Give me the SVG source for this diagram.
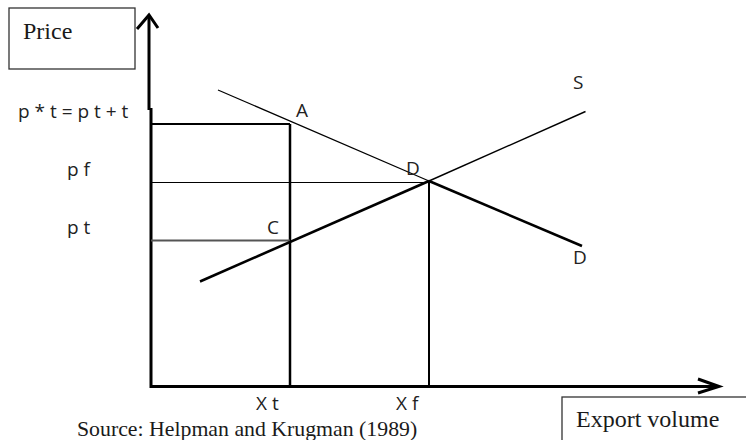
<svg xmlns="http://www.w3.org/2000/svg" width="746" height="440" viewBox="0 0 746 440">
<style>
.box{fill:#fff;stroke:#333;stroke-width:1.3}
.serif{font-family:"Liberation Serif","Times New Roman",serif;fill:#1a1a1a}
.lbl{font-family:"Open Sans","Liberation Sans",sans-serif;font-size:19px;fill:#222}
.ax{stroke:#000;stroke-width:3;fill:none}
.ln{stroke:#000;fill:none}
</style>
<rect width="746" height="440" fill="#fff"/>
<g id="axes">
<path class="ax" d="M149 15 V110 M151 108 V388 M150 386.5 H719"/>
<path class="ax" d="M137 29 L149 15 L158 28" stroke-linejoin="miter"/>
<path class="ax" d="M698 379 L719 386.5 L698 393"/>
</g>
<g id="connectors">
<path class="ln" stroke-width="2" d="M151 124 H290"/>
<path class="ln" stroke-width="2.5" d="M290 124 V386"/>
<path class="ln" stroke-width="2" d="M429 181 V386"/>
<path class="ln" stroke-width="1.2" d="M151 182.5 H429"/>
<path class="ln" stroke="#555" stroke-width="2" d="M151 240.5 H290" style="stroke:#555"/>
<path class="ln" stroke-width="2.6" d="M200 281.5 L429 181"/>
<path class="ln" stroke-width="1.4" d="M429 181 L585.5 111.5"/>
<path class="ln" stroke-width="1.2" d="M218 90 L429 181"/>
<path class="ln" stroke-width="2.6" d="M429 181 L582 246"/>
</g>
<g id="price">
<rect class="box" x="9" y="8" width="126" height="61"/>
<text class="serif" x="23" y="39" font-size="24">Price</text>
</g>
<g id="export-volume">
<rect class="box" x="562" y="397" width="200" height="60"/>
<text class="serif" x="576" y="427" font-size="24">Export volume</text>
</g>
<g id="labels">
<text class="lbl" x="18" y="118">p * t = p t + t</text>
<text class="lbl" x="67" y="176">p f</text>
<text class="lbl" x="67" y="234">p t</text>
<text class="lbl" x="296" y="117">A</text>
<text class="lbl" x="406" y="175">D</text>
<text class="lbl" x="267" y="234">C</text>
<text class="lbl" x="573" y="89">S</text>
<text class="lbl" x="573" y="264">D</text>
<text class="lbl" x="256" y="410">X t</text>
<text class="lbl" x="396" y="410">X f</text>
</g>
<g id="source">
<text class="serif" x="77" y="436" font-size="21.8">Source: Helpman and Krugman (1989)</text>
</g>
</svg>
